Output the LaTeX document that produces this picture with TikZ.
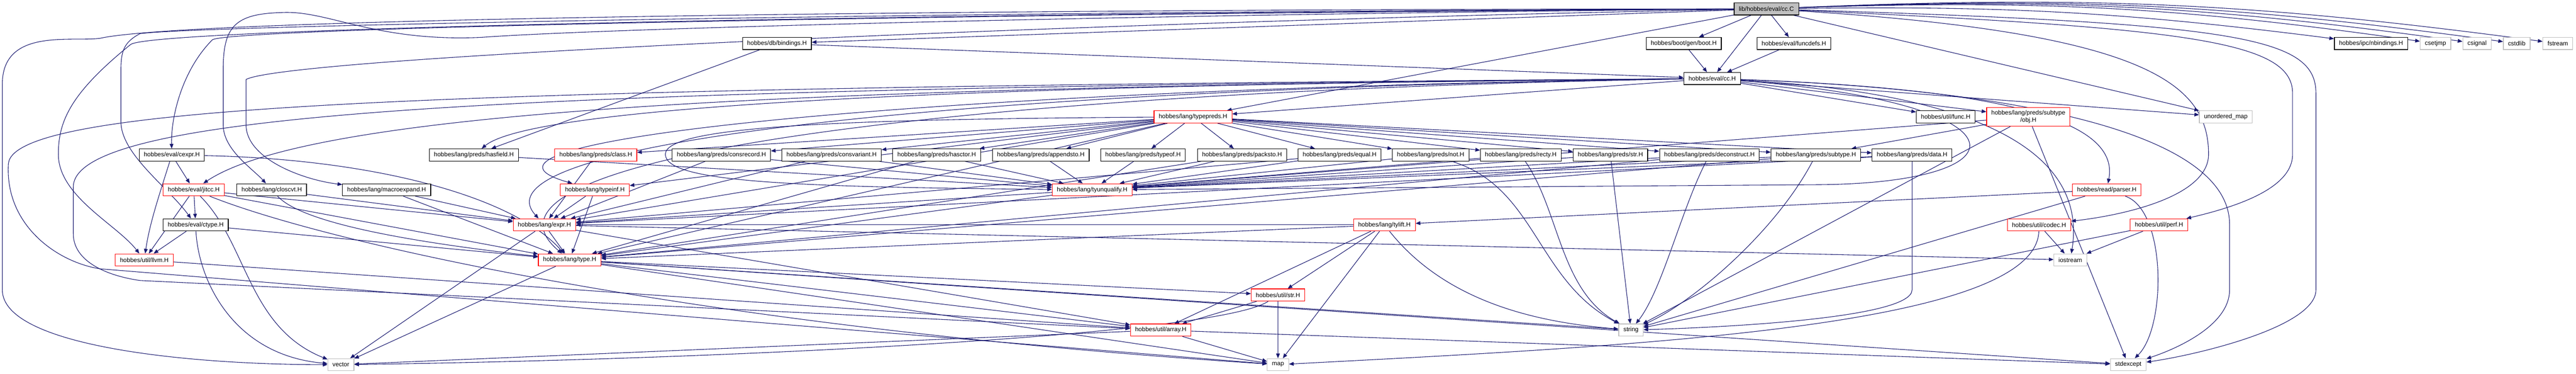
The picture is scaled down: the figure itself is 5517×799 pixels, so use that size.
\documentclass[tikz,border=0pt]{standalone}
\usepackage{fontspec}
\setmainfont{Liberation Sans}
\usepackage{tikz}
\definecolor{white}{rgb}{1.0, 1.0, 1.0}
\definecolor{black}{rgb}{0.0, 0.0, 0.0}
\definecolor{midnight}{RGB}{25,25,112}
\definecolor{grey75}{RGB}{191,191,191}
\definecolor{truncred}{RGB}{255,0,0}
\usetikzlibrary{arrows.meta}
\pgfdeclarelayer{edgelayer}
\pgfdeclarelayer{nodelayer}
\pgfsetlayers{edgelayer,nodelayer,main}
\tikzstyle{node}=[rectangle,fill=white,draw=black,line width=0.33pt,inner xsep=2.5pt,inner ysep=0pt,minimum height=6.5pt,font=\fontsize{3.3}{3.8}\selectfont]
\tikzstyle{trunc}=[style=node,draw=truncred]
\tikzstyle{sys}=[style=node,draw=grey75]
\tikzstyle{edge}=[draw=midnight,line width=0.3pt,>={Triangle[length=2.5pt,width=2pt]}]

\begin{document}
\begin{tikzpicture}[x=0.25pt,y=-0.25pt]
    \useasboundingbox (0,0) rectangle (5517,799);
            \begin{pgfonlayer}{nodelayer}
            \node [style = node, fill=grey75] (cc_C) at (3783, 19) {lib/hobbes/eval/cc.C};

            \node [style = node] (bindings) at (1664, 93) {hobbes/db/bindings.H};
            \node [style = node] (boot) at (3606, 93) {hobbes/boot/gen/boot.H};
            \node [style = node] (funcdefs) at (3842, 93) {hobbes/eval/funcdefs.H};
            \node [style = node] (nbindings) at (5078, 93) {hobbes/ipc/nbindings.H};
            \node [style = sys] (csetjmp) at (5216, 93) {csetjmp};
            \node [style = sys] (csignal) at (5305, 93) {csignal};
            \node [style = sys] (cstdlib) at (5390, 93) {cstdlib};
            \node [style = sys] (fstream) at (5478, 93) {fstream};

            \node [style = node] (cc_H) at (3667, 168) {hobbes/eval/cc.H};

            \node [style = trunc] (typepreds) at (2555, 250) {hobbes/lang/typepreds.H};
            \node [style = node] (func) at (4167, 250) {hobbes/util/func.H};
            \node [style = trunc, align=center, minimum height=10pt] (obj) at (4344, 250) {hobbes/lang/preds/subtype\\/obj.H};
            \node [style = sys] (unordered_map) at (4767, 250) {unordered\_map};

            \node [style = node] (cexpr) at (368, 331.5) {hobbes/eval/cexpr.H};
            \node [style = node] (hasfield) at (1015, 331.5) {hobbes/lang/preds/hasfield.H};
            \node [style = trunc] (class) at (1276, 331.5) {hobbes/lang/preds/class.H};
            \node [style = node] (consrecord) at (1545, 331.5) {hobbes/lang/preds/consrecord.H};
            \node [style = node] (consvariant) at (1781, 331.5) {hobbes/lang/preds/consvariant.H};
            \node [style = node] (hasctor) at (2006, 331.5) {hobbes/lang/preds/hasctor.H};
            \node [style = node] (appendsto) at (2229, 331.5) {hobbes/lang/preds/appendsto.H};
            \node [style = node] (typeof) at (2448, 331.5) {hobbes/lang/preds/typeof.H};
            \node [style = node] (packsto) at (2660, 331.5) {hobbes/lang/preds/packsto.H};
            \node [style = node] (equal) at (2869, 331.5) {hobbes/lang/preds/equal.H};
            \node [style = node] (not) at (3064, 331.5) {hobbes/lang/preds/not.H};
            \node [style = node] (recty) at (3257, 331.5) {hobbes/lang/preds/recty.H};
            \node [style = node] (str_p) at (3449, 331.5) {hobbes/lang/preds/str.H};
            \node [style = node] (deconstruct) at (3661, 331.5) {hobbes/lang/preds/deconstruct.H};
            \node [style = node] (subtype) at (3889, 331.5) {hobbes/lang/preds/subtype.H};
            \node [style = node] (data) at (4095, 331.5) {hobbes/lang/preds/data.H};

            \node [style = trunc] (jitcc) at (415, 406) {hobbes/eval/jitcc.H};
            \node [style = node] (closcvt) at (582, 406) {hobbes/lang/closcvt.H};
            \node [style = node] (macroexpand) at (828, 406) {hobbes/lang/macroexpand.H};
            \node [style = trunc] (typeinf) at (1274, 406) {hobbes/lang/typeinf.H};
            \node [style = trunc] (tyunqualify) at (2339, 406) {hobbes/lang/tyunqualify.H};
            \node [style = trunc] (parser) at (4512, 406) {hobbes/read/parser.H};

            \node [style = node] (ctype) at (419, 481) {hobbes/eval/ctype.H};
            \node [style = trunc] (expr) at (1166, 481) {hobbes/lang/expr.H};
            \node [style = trunc] (tylift) at (2965, 481) {hobbes/lang/tylift.H};
            \node [style = trunc] (codec) at (4367, 481) {hobbes/util/codec.H};
            \node [style = trunc] (perf) at (4624, 481) {hobbes/util/perf.H};

            \node [style = trunc] (llvm) at (309, 556) {hobbes/util/llvm.H};
            \node [style = trunc] (type) at (1220, 556) {hobbes/lang/type.H};
            \node [style = sys] (iostream) at (4434, 556) {iostream};

            \node [style = trunc] (str_u) at (2737, 631) {hobbes/util/str.H};

            \node [style = trunc] (array) at (2486, 706) {hobbes/util/array.H};
            \node [style = sys] (string) at (3493, 706) {string};

            \node [style = sys] (vector) at (730, 780) {vector};
            \node [style = sys] (map) at (2737, 780) {map};
            \node [style = sys] (stdexcept) at (4558, 780) {stdexcept};
            \end{pgfonlayer}

        \begin{pgfonlayer}{edgelayer}
            \draw [style = edge, ->] (cc_C) to (bindings);
            \draw [style = edge, ->] (cc_C) to (boot);
            \draw [style = edge, ->] (cc_C) to (cc_H);
            \draw [style = edge, ->] (cc_C) to (funcdefs);
            \draw [style = edge, ->] (cc_C) to [bend left=4] (nbindings);
            \draw [style = edge, ->] (cc_C) to [bend left=5] (csetjmp);
            \draw [style = edge, ->] (cc_C) to [bend left=5] (csignal);
            \draw [style = edge, ->] (cc_C) to [bend left=5] (cstdlib);
            \draw [style = edge, ->] (cc_C) to [bend left=5] (fstream);
            \draw [style = edge, ->] (cc_C) to (unordered_map);
            \draw [style = edge, ->] (cc_C) to (typepreds);
            \draw [style = edge, ->] (cc_C) .. controls (2500,30) and (1300,60) .. (1030,80) .. controls (800,90) and (700,20) .. (600,27) .. controls (500,30) and (478,60) .. (478,150) -- (478,267) .. controls (478,320) and (540,360) .. (closcvt);
            \draw [style = edge, ->] (cc_C) .. controls (2400,45) and (620,120) .. (527,170) -- (527,267) .. controls (527,340) and (650,385) .. (macroexpand);
            \draw [style = edge, ->] (cc_C) .. controls (2000,30) and (500,60) .. (455,85) .. controls (390,150) and (366,250) .. (cexpr);
            \draw [style = edge, ->] (cc_C) .. controls (2000,28) and (330,60) .. (280,95) .. controls (150,200) and (125,260) .. (125,330) .. controls (125,420) and (250,480) .. (llvm);
            \draw [style = edge, ->] (cc_C) .. controls (2000,25) and (420,55) .. (300,72) .. controls (265,90) and (259,110) .. (259,150) -- (259,260) .. controls (259,330) and (360,400) .. (ctype);
            \draw [style = edge, ->] (cc_C) .. controls (2000,20) and (400,40) .. (214,82) .. controls (150,90) and (5,60) .. (5,180) -- (5,620) .. controls (5,740) and (400,780) .. (vector);
            \draw [style = edge, ->] (cc_C) .. controls (4600,70) and (4730,180) .. (4730,330) .. controls (4730,420) and (4550,460) .. (codec);
            \draw [style = edge, ->] (cc_C) .. controls (4700,60) and (4910,90) .. (4910,200) -- (4910,330) .. controls (4910,400) and (4800,440) .. (perf);
            \draw [style = edge, ->] (cc_C) .. controls (4800,50) and (4960,80) .. (4960,200) -- (4960,620) .. controls (4960,700) and (4700,760) .. (stdexcept);

            \draw [style = edge, ->] (bindings) to (cc_H);
            \draw [style = edge, ->] (bindings) to (hasfield);
            \draw [style = edge, ->] (boot) to (cc_H);
            \draw [style = edge, ->] (funcdefs) to (cc_H);

            \draw [style = edge, ->] (cc_H) to (typepreds);
            \draw [style = edge, ->] (cc_H) to (func);
            \draw [style = edge, ->] (cc_H) to (obj);
            \draw [style = edge, ->] (cc_H) to (unordered_map);
            \draw [style = edge, ->] (cc_H) .. controls (2200,180) and (1150,220) .. (hasfield);
            \draw [style = edge, ->] (cc_H) .. controls (2000,185) and (700,215) .. (jitcc);
            \draw [style = edge, ->] (cc_H) .. controls (2000,190) and (900,300) .. (typeinf);
            \draw [style = edge, ->] (cc_H) .. controls (2100,190) and (1000,300) .. (expr);
            \draw [style = edge, ->] (cc_H) .. controls (2100,195) and (950,330) .. (type);
            \draw [style = edge, ->] (cc_H) .. controls (4350,220) and (4350,390) .. (3900,395) -- (tyunqualify);
            \draw [style = edge, ->] (cc_H) .. controls (4300,190) and (4540,260) .. (parser);
            \draw [style = edge, ->] (cc_H) .. controls (4250,200) and (4470,330) .. (iostream);
            \draw [style = edge, ->] (cc_H) .. controls (4300,190) and (4775,280) .. (4775,480) -- (4775,620) .. controls (4775,700) and (4650,750) .. (stdexcept);
            \draw [style = edge, ->] (cc_H) .. controls (1200,190) and (157,230) .. (157,400) -- (157,500) .. controls (157,560) and (230,590) .. (300,600) -- (array);
            \draw [style = edge, ->] (cc_H) .. controls (1000,188) and (30,220) .. (18,350) .. controls (10,480) and (120,560) .. (214,575) -- (map);

            \draw [style = edge, ->] (typepreds) to (class);
            \draw [style = edge, ->] (typepreds) to (consrecord);
            \draw [style = edge, ->] (typepreds) to (consvariant);
            \draw [style = edge, ->] (typepreds) to (hasctor);
            \draw [style = edge, ->] (typepreds) to (appendsto);
            \draw [style = edge, ->] (typepreds) to (typeof);
            \draw [style = edge, ->] (typepreds) to (packsto);
            \draw [style = edge, ->] (typepreds) to (equal);
            \draw [style = edge, ->] (typepreds) to (not);
            \draw [style = edge, ->] (typepreds) to (recty);
            \draw [style = edge, ->] (typepreds) to (str_p);
            \draw [style = edge, ->] (typepreds) to (deconstruct);
            \draw [style = edge, ->] (typepreds) to (subtype);
            \draw [style = edge, ->] (typepreds) to (data);
            \draw [style = edge, ->] (typepreds) to (typeinf);
            \draw [style = edge, ->] (typepreds) to (expr);
            \draw [style = edge, ->] (typepreds) to (type);
            \draw [style = edge, ->] (typepreds) .. controls (1800,255) and (1425,270) .. (1425,330) .. controls (1425,390) and (1700,400) .. (tyunqualify);

            \draw [style = edge, ->] (hasfield) to (tyunqualify);
            \draw [style = edge, ->] (consrecord) to (tyunqualify);
            \draw [style = edge, ->] (consvariant) to (tyunqualify);
            \draw [style = edge, ->] (hasctor) to (tyunqualify);
            \draw [style = edge, ->] (appendsto) to (tyunqualify);
            \draw [style = edge, ->] (typeof) to (tyunqualify);
            \draw [style = edge, ->] (packsto) to (tyunqualify);
            \draw [style = edge, ->] (equal) to (tyunqualify);
            \draw [style = edge, ->] (not) to (tyunqualify);
            \draw [style = edge, ->] (recty) to (tyunqualify);
            \draw [style = edge, ->] (str_p) to (tyunqualify);
            \draw [style = edge, ->] (deconstruct) to (tyunqualify);
            \draw [style = edge, ->] (subtype) to (tyunqualify);
            \draw [style = edge, ->] (data) to (tyunqualify);

            \draw [style = edge, ->] (consrecord) to (expr);
            \draw [style = edge, ->] (consvariant) to (expr);
            \draw [style = edge, ->] (hasctor) to (type);
            \draw [style = edge, ->] (packsto) to (type);
            \draw [style = edge, ->] (equal) to (expr);
            \draw [style = edge, ->] (deconstruct) to (type);
            \draw [style = edge, ->] (subtype) to (type);
            \draw [style = edge, ->] (data) to (expr);

            \draw [style = edge, ->] (not) .. controls (3290,400) and (3290,600) .. (string);
            \draw [style = edge, ->] (recty) .. controls (3340,450) and (3340,620) .. (string);
            \draw [style = edge, ->] (str_p) to (string);
            \draw [style = edge, ->] (deconstruct) .. controls (3600,450) and (3560,620) .. (string);
            \draw [style = edge, ->] (subtype) .. controls (3800,500) and (3620,650) .. (string);
            \draw [style = edge, ->] (data) -- (4095,620) .. controls (4095,680) and (3700,700) .. (string);

            \draw [style = edge, ->] (cexpr) to (jitcc);
            \draw [style = edge, ->] (cexpr) .. controls (800,340) and (1100,420) .. (type);
            \draw [style = edge, ->] (cexpr) .. controls (340,420) and (320,480) .. (llvm);
            \draw [style = edge, ->] (class) to (expr);

            \draw [style = edge, ->] (jitcc) to (ctype);
            \draw [style = edge, ->] (jitcc) to (llvm);
            \draw [style = edge, ->] (jitcc) to (expr);
            \draw [style = edge, ->] (jitcc) to (type);
            \draw [style = edge, ->] (jitcc) .. controls (530,520) and (530,700) .. (vector);
            \draw [style = edge, ->] (jitcc) .. controls (700,520) and (1500,700) .. (map);
            \draw [style = edge, ->] (closcvt) to (expr);
            \draw [style = edge, ->] (closcvt) .. controls (650,480) and (900,520) .. (type);
            \draw [style = edge, ->] (macroexpand) to (expr);
            \draw [style = edge, ->] (macroexpand) to (type);
            \draw [style = edge, ->] (typeinf) to (expr);
            \draw [style = edge, ->] (typeinf) to (type);
            \draw [style = edge, ->] (tyunqualify) to (expr);
            \draw [style = edge, ->] (tyunqualify) to (type);

            \draw [style = edge, ->] (ctype) to (llvm);
            \draw [style = edge, ->] (ctype) to (type);
            \draw [style = edge, ->] (ctype) .. controls (425,600) and (500,760) .. (vector);
            \draw [style = edge, ->] (expr) to (type);
            \draw [style = edge, ->] (expr) to (vector);
            \draw [style = edge, ->] (expr) to (array);
            \draw [style = edge, ->] (expr) to (iostream);
            \draw [style = edge, ->] (type) to (vector);
            \draw [style = edge, ->] (type) to (str_u);
            \draw [style = edge, ->] (type) to (array);
            \draw [style = edge, ->] (type) to (map);
            \draw [style = edge, ->] (type) to (string);
            \draw [style = edge, ->] (type) to (stdexcept);
            \draw [style = edge, ->] (llvm) to (array);

            \draw [style = edge, ->] (tylift) to (type);
            \draw [style = edge, ->] (tylift) to (expr);
            \draw [style = edge, ->] (tylift) to (str_u);
            \draw [style = edge, ->] (tylift) to (array);
            \draw [style = edge, ->] (tylift) to (map);
            \draw [style = edge, ->] (tylift) .. controls (3100,650) and (3300,690) .. (string);
            \draw [style = edge, ->] (str_u) to (array);
            \draw [style = edge, ->] (str_u) to (map);
            \draw [style = edge, ->] (str_u) .. controls (2600,720) and (1500,770) .. (vector);
            \draw [style = edge, ->] (array) to (map);
            \draw [style = edge, ->] (array) to (vector);
            \draw [style = edge, ->] (array) to (stdexcept);

            \draw [style = edge, ->] (obj) to (subtype);
            \draw [style = edge, ->] (obj) to (tyunqualify);
            \draw [style = edge, ->] (obj) to (string);
            \draw [style = edge, ->] (obj) to (stdexcept);
            \draw [style = edge, ->] (parser) to (tylift);
            \draw [style = edge, ->] (parser) to (string);
            \draw [style = edge, ->] (parser) .. controls (4640,450) and (4640,700) .. (stdexcept);
            \draw [style = edge, ->] (codec) to (iostream);
            \draw [style = edge, ->] (codec) .. controls (4360,700) and (3500,740) .. (map);
            \draw [style = edge, ->] (perf) to (iostream);
            \draw [style = edge, ->] (perf) to (string);
        \end{pgfonlayer}
    \end{tikzpicture}
\end{document}
